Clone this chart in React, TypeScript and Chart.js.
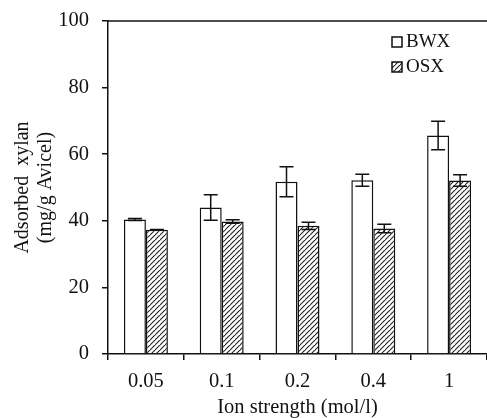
import React, { useEffect, useRef } from "react";
import { Chart, registerables } from "chart.js";

Chart.register(...registerables);

const categories = ["0.05", "0.1", "0.2", "0.4", "1"];
const bwxValues = [40.4, 44.0, 51.7, 52.2, 65.6];
const bwxErrors = [0.3, 3.8, 4.5, 1.8, 4.3];
const osxValues = [37.3, 39.8, 38.5, 37.7, 52.1];
const osxErrors = [0.1, 0.5, 1.1, 1.3, 1.7];
const errorsBySeries = [bwxErrors, osxErrors];
const yTicks = [0, 20, 40, 60, 80, 100];
const seriesLabels = ["BWX", "OSX"];

const FONT = "'Liberation Serif', 'Times New Roman', serif";

function makeHatch(ctx: CanvasRenderingContext2D): CanvasPattern | string {
  const c = document.createElement("canvas");
  const s = 5;
  c.width = s;
  c.height = s;
  const g = c.getContext("2d");
  if (!g) return "#fff";
  g.fillStyle = "#fff";
  g.fillRect(0, 0, s, s);
  g.strokeStyle = "#222";
  g.lineWidth = 1.1;
  g.beginPath();
  g.moveTo(-1, s + 1);
  g.lineTo(s + 1, -1);
  g.moveTo(-1 - s, s + 1);
  g.lineTo(1, -1);
  g.moveTo(s - 1, 2 * s + 1);
  g.lineTo(2 * s + 1, s - 1);
  g.stroke();
  return ctx.createPattern(c, "repeat") || "#fff";
}

export default function App() {
  const ref = useRef<HTMLCanvasElement | null>(null);

  useEffect(() => {
    if (!ref.current) return;
    const ctx = ref.current.getContext("2d")!;
    const hatch = makeHatch(ctx);

    const errorBars = {
      id: "errorBars",
      afterDatasetsDraw(chart: any) {
        const c = chart.ctx;
        const y = chart.scales.y;
        c.save();
        c.strokeStyle = "#111";
        c.lineWidth = 1.5;
        chart.data.datasets.forEach((ds: any, di: number) => {
          const meta = chart.getDatasetMeta(di);
          meta.data.forEach((bar: any, i: number) => {
            const v = ds.data[i];
            const e = errorsBySeries[di][i];
            const yT = y.getPixelForValue(v + e);
            const yB = y.getPixelForValue(v - e);
            const x = bar.x;
            const cap = 7;
            c.beginPath();
            c.moveTo(x, yT);
            c.lineTo(x, yB);
            c.moveTo(x - cap, yT);
            c.lineTo(x + cap, yT);
            c.moveTo(x - cap, yB);
            c.lineTo(x + cap, yB);
            c.stroke();
          });
        });
        c.restore();
      },
    };

    const frameAndLegend = {
      id: "frameAndLegend",
      afterDraw(chart: any) {
        const c = chart.ctx;
        const a = chart.chartArea;
        c.save();
        c.strokeStyle = "#111";
        c.lineWidth = 1.5;
        c.beginPath();
        c.moveTo(a.left, a.top);
        c.lineTo(a.right, a.top);
        c.stroke();
        // legend
        const bx = a.right - 95;
        const rows = [a.top + 16, a.top + 41];
        chart.data.datasets.forEach((ds: any, i: number) => {
          const yTop = rows[i];
          c.fillStyle = i === 0 ? "#fff" : hatch;
          c.fillRect(bx, yTop, 10, 10);
          c.lineWidth = 1.5;
          c.strokeStyle = "#111";
          c.strokeRect(bx, yTop, 10, 10);
          c.fillStyle = "#111";
          c.font = `19px ${FONT}`;
          c.textBaseline = "middle";
          c.textAlign = "left";
          c.fillText(ds.label, bx + 14, yTop + 5.5);
        });
        c.restore();
      },
    };

    const chart = new Chart(ref.current, {
      type: "bar",
      data: {
        labels: categories,
        datasets: [
          {
            label: seriesLabels[0],
            data: bwxValues,
            backgroundColor: "#ffffff",
            borderColor: "#111",
            borderWidth: 1.5,
            categoryPercentage: 0.58,
            barPercentage: 1.0,
          },
          {
            label: seriesLabels[1],
            data: osxValues,
            backgroundColor: hatch as any,
            borderColor: "#111",
            borderWidth: 1.5,
            categoryPercentage: 0.58,
            barPercentage: 1.0,
          },
        ],
      },
      options: {
        animation: false,
        responsive: false,
        maintainAspectRatio: false,
        layout: { padding: { top: 21, left: 0, right: 0, bottom: 0 } },
        plugins: {
          legend: { display: false },
          tooltip: { enabled: false },
        },
        scales: {
          x: {
            grid: {
              display: true,
              drawOnChartArea: false,
              drawTicks: true,
              tickLength: 6,
              color: "#111",
              lineWidth: 1.5,
              offset: true,
            },
            border: { display: true, color: "#111", width: 1.5 },
            ticks: {
              color: "#111",
              font: { family: FONT, size: 20.5 },
              padding: 9,
            },
            title: {
              display: true,
              text: "Ion strength (mol/l)",
              color: "#111",
              font: { family: FONT, size: 20.5, lineHeight: 1.0 },
              padding: { top: 8, bottom: 0 },
            },
            afterFit(scale: any) {
              scale.height = 64;
              scale.paddingLeft = 0;
              scale.paddingRight = 0;
            },
          },
          y: {
            min: 0,
            max: 100,
            afterBuildTicks(scale: any) {
              scale.ticks = yTicks.map((v) => ({ value: v }));
            },
            grid: {
              display: true,
              drawOnChartArea: false,
              drawTicks: true,
              tickLength: 6,
              color: "#111",
              lineWidth: 1.5,
            },
            border: { display: true, color: "#111", width: 1.5 },
            ticks: {
              color: "#111",
              font: { family: FONT, size: 20.5 },
              padding: 13,
            },
            title: {
              display: true,
              text: ["Adsorbed  xylan", "(mg/g Avicel)"],
              color: "#111",
              font: { family: FONT, size: 20, lineHeight: 1.15 },
              padding: { top: 11, bottom: 4 },
            },
            afterFit(scale: any) {
              scale.width = 108;
              scale.paddingTop = 0;
              scale.paddingBottom = 0;
            },
          },
        },
      },
      plugins: [errorBars, frameAndLegend],
    });
    return () => chart.destroy();
  }, []);

  return (
    <div style={{ position: "fixed", left: 0, top: 0, width: 487, height: 418, background: "#fff" }}>
      <canvas ref={ref} width={487} height={418} style={{ display: "block", width: 487, height: 418 }} />
    </div>
  );
}
